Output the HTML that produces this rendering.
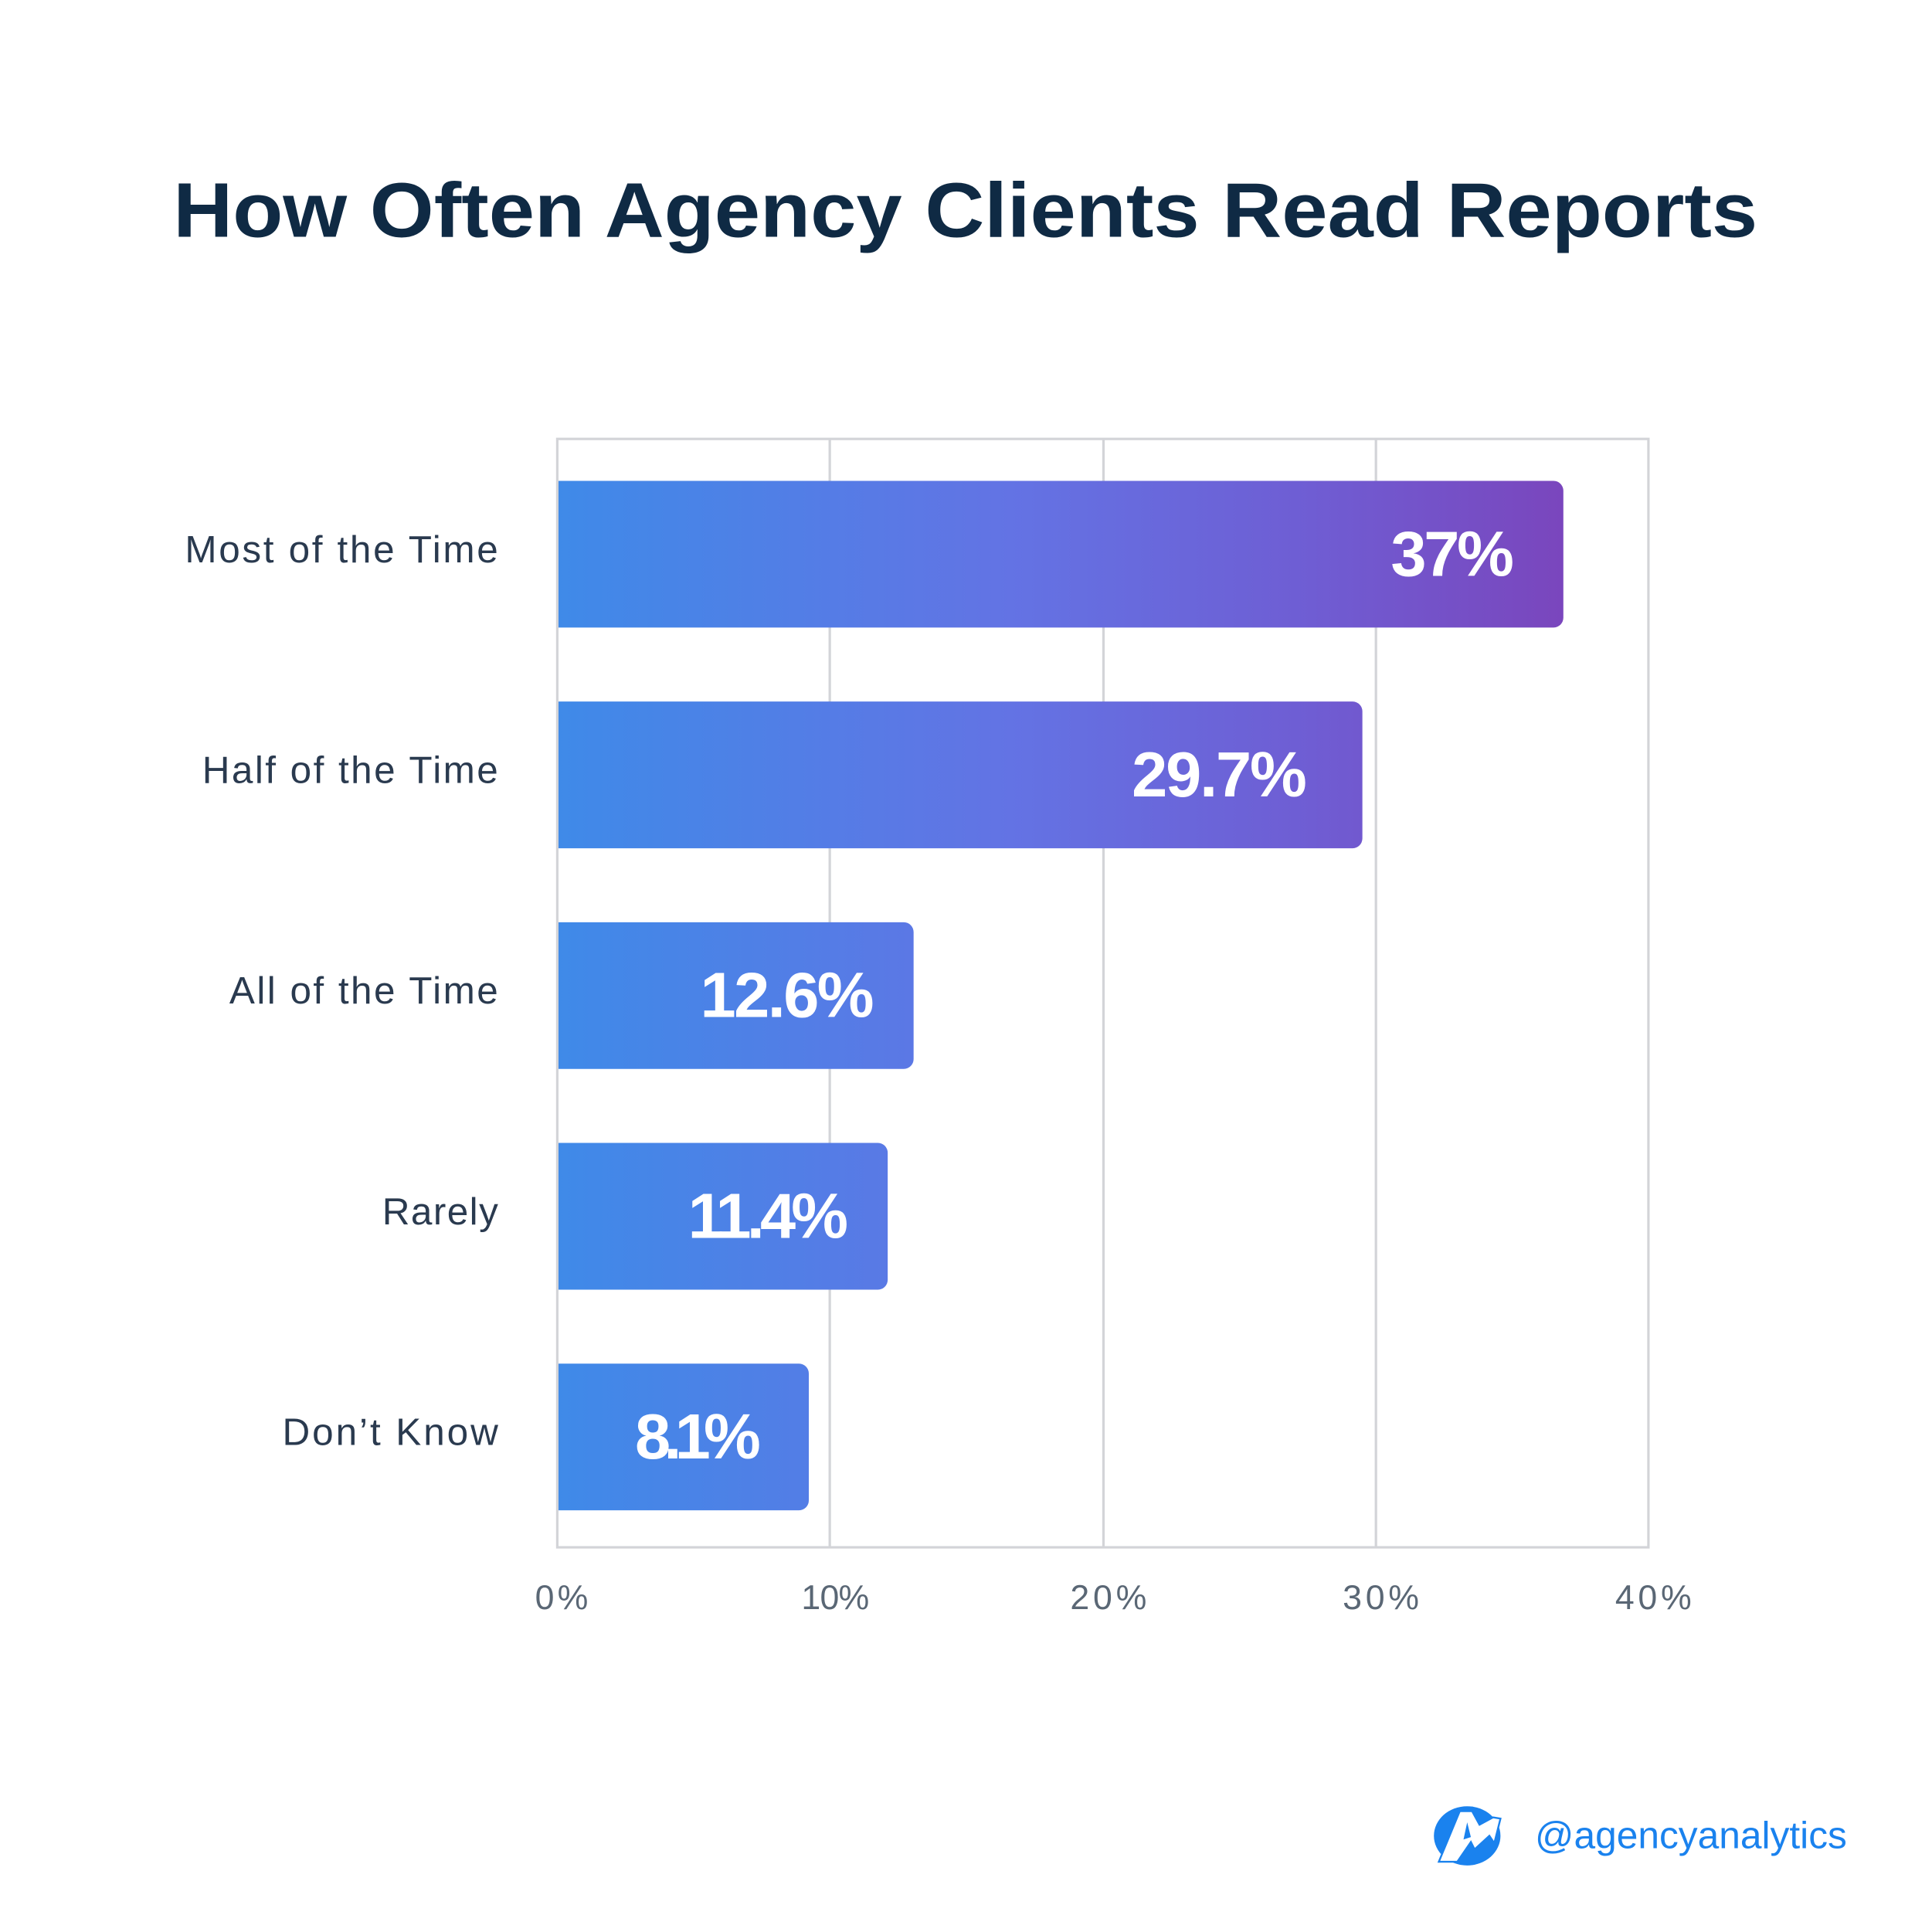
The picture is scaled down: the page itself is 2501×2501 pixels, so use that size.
<!DOCTYPE html>
<html><head><meta charset="utf-8"><style>
html,body{margin:0;padding:0;background:#fff;}
svg{display:block;}
</style></head><body>
<svg width="2501" height="2501" viewBox="0 0 1567 1567" xmlns="http://www.w3.org/2000/svg">
<defs>
<linearGradient id="g" gradientUnits="userSpaceOnUse" x1="452" y1="0" x2="1268" y2="0">
<stop offset="0" stop-color="#3f8ae8"/>
<stop offset="0.45" stop-color="#6373e4"/>
<stop offset="0.75" stop-color="#6f5dd3"/>
<stop offset="1" stop-color="#7a46bd"/>
</linearGradient>
</defs>
<rect width="1567" height="1567" fill="#fff"/>
<text x="783" y="192" text-anchor="middle" font-family="Liberation Sans, sans-serif" font-weight="bold" font-size="63" fill="#0f2a44" textLength="1285" lengthAdjust="spacingAndGlyphs">How Often Agency Clients Read Reports</text>
<g stroke="#d3d4d8" stroke-width="2" fill="none">
<rect x="452" y="356" width="885" height="899"/>
<line x1="673" y1="356" x2="673" y2="1255"/>
<line x1="895" y1="356" x2="895" y2="1255"/>
<line x1="1116" y1="356" x2="1116" y2="1255"/>
</g>
<g fill="url(#g)">
<path d="M453 390 H1260 a8 8 0 0 1 8 8 V501 a8 8 0 0 1 -8 8 H453 Z"/>
<path d="M453 569 H1097 a8 8 0 0 1 8 8 V680 a8 8 0 0 1 -8 8 H453 Z"/>
<path d="M453 748 H733 a8 8 0 0 1 8 8 V859 a8 8 0 0 1 -8 8 H453 Z"/>
<path d="M453 927 H712 a8 8 0 0 1 8 8 V1038 a8 8 0 0 1 -8 8 H453 Z"/>
<path d="M453 1106 H648 a8 8 0 0 1 8 8 V1217 a8 8 0 0 1 -8 8 H453 Z"/>
</g>
<g font-family="Liberation Sans, sans-serif" font-weight="bold" font-size="52" fill="#fff" lengthAdjust="spacingAndGlyphs">
<text x="1128" y="467" textLength="100">37%</text>
<text x="918" y="646" textLength="142">29.7%</text>
<text x="568" y="825" textLength="141">12.6%</text>
<text x="558" y="1004" textLength="130">11.4%</text>
<text x="515" y="1183" textLength="102">8.1%</text>
</g>
<g font-family="Liberation Sans, sans-serif" font-size="31" fill="#2a3a4f" lengthAdjust="spacingAndGlyphs">
<text x="150" y="456" textLength="254">Most of the Time</text>
<text x="164" y="635" textLength="240">Half of the Time</text>
<text x="186" y="814" textLength="218">All of the Time</text>
<text x="310" y="993" textLength="94">Rarely</text>
<text x="229" y="1172" textLength="175">Don’t Know</text>
</g>
<g font-family="Liberation Sans, sans-serif" font-size="28" fill="#5a6775" lengthAdjust="spacingAndGlyphs">
<text x="434" y="1305" textLength="43">0%</text>
<text x="650" y="1305" textLength="55">10%</text>
<text x="868" y="1305" textLength="62">20%</text>
<text x="1089" y="1305" textLength="62">30%</text>
<text x="1310" y="1305" textLength="62">40%</text>
</g>
<g>
<ellipse cx="1190" cy="1489" rx="27" ry="24" fill="#1a82ee"/>
<path d="M1167 1510 L1184 1469 L1194 1469 L1200 1480 L1211 1474 L1217 1475 L1212 1495 L1208 1489 L1196 1500 L1193 1494 L1182 1510 Z" fill="#fff" stroke="#1a82ee" stroke-width="1.5"/>
<path d="M1187 1492 L1190 1478 L1193 1490 Z" fill="#1a82ee"/>
</g>
<text x="1245" y="1499" font-family="Liberation Sans, sans-serif" font-size="31" fill="#1a82ee" textLength="253" lengthAdjust="spacingAndGlyphs">@agencyanalytics</text>
</svg>
</body></html>
